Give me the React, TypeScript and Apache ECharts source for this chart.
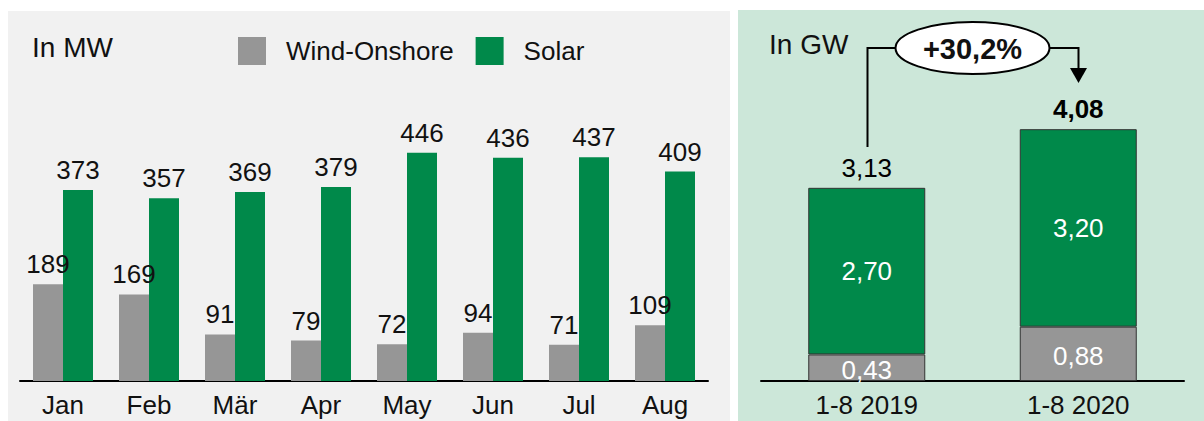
import React, { useEffect, useRef } from "react";
import * as echarts from "echarts";

const months = ["Jan", "Feb", "Mär", "Apr", "May", "Jun", "Jul", "Aug"];
const windMonthly = [189, 169, 91, 79, 72, 94, 71, 109];
const solarMonthly = [373, 357, 369, 379, 446, 436, 437, 409];

const periods = ["1-8 2019", "1-8 2020"];
const windYtd = [0.43, 0.88];
const solarYtd = [2.7, 3.2];
const totalsYtd = [3.13, 4.08];
const growthLabel = "+30,2%";

const GREEN = "#00894A";
const GRAY = "#969696";
const FONT = "Liberation Sans, Arial, sans-serif";
const FS = 26;

const fmt = (v: number) => v.toFixed(2).replace(".", ",");

export default function App() {
  const ref = useRef<HTMLDivElement>(null);
  useEffect(() => {
    if (!ref.current) return;
    const chart = echarts.init(ref.current, null, { renderer: "svg" });
    const option: any = {
      animation: false,
      textStyle: { fontFamily: FONT },
      legend: {
        left: 238,
        top: 37,
        padding: 0,
        icon: "rect",
        itemWidth: 28,
        itemHeight: 28,
        itemGap: 22,
        data: ["Wind-Onshore", "Solar"],
        textStyle: { fontSize: FS, color: "#111", fontFamily: FONT, padding: [0, 0, 0, 15] },
        selectedMode: false,
      },
      graphic: [
        { type: "rect", z: -10, shape: { x: 8, y: 11, width: 722, height: 410 }, style: { fill: "#F1F1F1" } },
        { type: "rect", z: -10, shape: { x: 738, y: 10, width: 466, height: 411 }, style: { fill: "#CCE7D9" } },
        { type: "text", z: 50, x: 32, y: 47, style: { text: "In MW", font: `28px ${FONT}`, fill: "#111", align: "left", verticalAlign: "middle" } },
        { type: "text", z: 50, x: 769, y: 44, style: { text: "In GW", font: `28px ${FONT}`, fill: "#111", align: "left", verticalAlign: "middle" } },
        { type: "polyline", z: 50, shape: { points: [[867.5, 147], [867.5, 48], [900, 48]] }, style: { stroke: "#000", lineWidth: 2, fill: null } },
        { type: "polyline", z: 50, shape: { points: [[1045, 48], [1078.5, 48], [1078.5, 69]] }, style: { stroke: "#000", lineWidth: 2, fill: null } },
        { type: "polygon", z: 50, shape: { points: [[1070, 68], [1087, 68], [1078.5, 83]] }, style: { fill: "#000" } },
        { type: "ellipse", z: 51, shape: { cx: 972.5, cy: 48, rx: 77, ry: 26 }, style: { fill: "#fff", stroke: "#000", lineWidth: 2 } },
        { type: "text", z: 52, x: 972.5, y: 49, style: { text: growthLabel, font: `bold 29px ${FONT}`, fill: "#111", align: "center", verticalAlign: "middle" } },
      ],
      grid: [
        { left: 20, width: 688, top: 125, bottom: 40 },
        { left: 761, width: 423, top: 72.4, bottom: 40 },
      ],
      xAxis: [
        {
          type: "category",
          gridIndex: 0,
          data: months,
          axisLine: { lineStyle: { color: "#000", width: 2 } },
          axisTick: { show: false },
          axisLabel: { fontSize: FS, color: "#111", margin: 11, fontFamily: FONT },
        },
        {
          type: "category",
          gridIndex: 1,
          data: periods,
          axisLine: { lineStyle: { color: "#000", width: 2 } },
          axisTick: { show: false },
          axisLabel: { fontSize: FS, color: "#111", margin: 11, fontFamily: FONT },
        },
      ],
      yAxis: [
        { type: "value", gridIndex: 0, min: 0, max: 500, show: false },
        { type: "value", gridIndex: 1, min: 0, max: 5, show: false },
      ],
      series: [
        {
          name: "Wind-Onshore",
          type: "bar",
          xAxisIndex: 0,
          yAxisIndex: 0,
          data: windMonthly,
          barWidth: 30,
          barGap: "0%",
          itemStyle: { color: GRAY },
          label: { show: true, position: "top", distance: 7, fontSize: FS, color: "#111", fontFamily: FONT },
        },
        {
          name: "Solar",
          type: "bar",
          xAxisIndex: 0,
          yAxisIndex: 0,
          data: solarMonthly,
          barWidth: 30,
          barGap: "0%",
          itemStyle: { color: GREEN },
          label: { show: true, position: "top", distance: 7, fontSize: FS, color: "#111", fontFamily: FONT },
        },
        {
          name: "Wind-Onshore 1-8",
          type: "bar",
          xAxisIndex: 1,
          yAxisIndex: 1,
          stack: "ytd",
          data: windYtd,
          barWidth: 117,
          itemStyle: { color: GRAY, borderColor: "#333", borderWidth: 1 },
          label: { show: true, position: "inside", offset: [0, 2], fontSize: FS, color: "#fff", fontFamily: FONT, formatter: (p: any) => fmt(p.value) },
        },
        {
          name: "Solar 1-8",
          type: "bar",
          xAxisIndex: 1,
          yAxisIndex: 1,
          stack: "ytd",
          data: solarYtd,
          barWidth: 117,
          itemStyle: { color: GREEN, borderColor: "#333", borderWidth: 1 },
          label: { show: true, position: "inside", fontSize: FS, color: "#fff", fontFamily: FONT, formatter: (p: any) => fmt(p.value) },
        },
        {
          name: "Total 1-8",
          type: "bar",
          xAxisIndex: 1,
          yAxisIndex: 1,
          stack: "ytd",
          barWidth: 117,
          itemStyle: { color: "rgba(0,0,0,0)", borderWidth: 0 },
          data: totalsYtd.map((_, i) => ({
            value: 0,
            label: i === totalsYtd.length - 1 ? { fontWeight: "bold" } : { fontWeight: "normal" },
          })),
          label: {
            show: true,
            position: "top",
            distance: 7,
            fontSize: FS,
            color: "#000",
            fontFamily: FONT,
            formatter: (p: any) => fmt(totalsYtd[p.dataIndex]),
          },
          z: 10,
        },
      ],
    };
    chart.setOption(option);
    return () => chart.dispose();
  }, []);
  return <div ref={ref} style={{ position: "absolute", left: 0, top: 0, width: 1204, height: 421 }} />;
}
